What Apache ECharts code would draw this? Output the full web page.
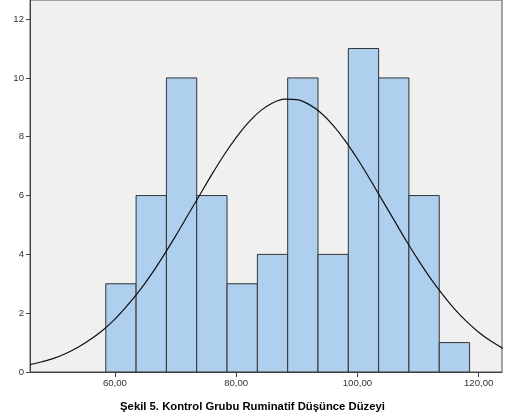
<!DOCTYPE html>
<html>
<head>
<meta charset="utf-8">
<script src="https://cdn.jsdelivr.net/npm/echarts@6/dist/echarts.min.js"></script>
<style>
html,body{margin:0;padding:0;background:#fff;}
#c{width:505px;height:419px;}
</style>
</head>
<body>
<div id="c"></div>
<script>
// Histogram bins (lower edges) and counts
const binStarts = [58.5, 63.5, 68.5, 73.5, 78.5, 83.5, 88.5, 93.5, 98.5, 103.5, 108.5, 113.5];
const binWidth = 5;
const counts = [3, 6, 10, 6, 3, 4, 10, 4, 11, 10, 6, 1];
// Normal curve points
const curveX = [46, 48, 50, 52, 54, 56, 58, 60, 62, 64, 66, 68, 70, 72, 74, 76, 78, 80, 82, 84,
                86, 88, 90, 92, 94, 96, 98, 100, 102, 104, 106, 108, 110, 112, 114, 116, 118, 120, 122, 124];
const curveY = [0.25, 0.35, 0.47, 0.64, 0.85, 1.11, 1.42, 1.80, 2.25, 2.75, 3.32, 3.95, 4.62, 5.32, 6.02, 6.72, 7.38, 7.97, 8.48, 8.88,
                9.15, 9.28, 9.26, 9.10, 8.81, 8.39, 7.86, 7.25, 6.58, 5.88, 5.18, 4.48, 3.82, 3.20, 2.65, 2.15, 1.72, 1.35, 1.05, 0.80];
const xTicks = [60, 80, 100, 120];
const yTicks = [0, 2, 4, 6, 8, 10, 12];
const title = 'Şekil 5. Kontrol Grubu Ruminatif Düşünce Düzeyi';

const chart = echarts.init(document.getElementById('c'), null, {renderer: 'canvas'});
const barData = binStarts.map((s, i) => [s, s + binWidth, counts[i]]);
const curveData = curveX.map((x, i) => [x, curveY[i]]);

chart.setOption({
  animation: false,
  title: {
    text: title,
    left: 'center',
    top: 396,
    textStyle: {fontFamily: 'Liberation Sans', fontWeight: 'bold', fontSize: 11.3, color: '#000'}
  },
  grid: {
    left: 30, right: 3, top: 0, bottom: 47,
    show: true, backgroundColor: '#F0F0F0', borderColor: '#555', borderWidth: 1
  },
  xAxis: {
    type: 'value', min: 46, max: 123.85,
    axisLine: {show: true, lineStyle: {color: '#444', width: 1}},
    axisTick: {show: true, length: 5, lineStyle: {color: '#444'}, customValues: xTicks},
    axisLabel: {
      customValues: xTicks, margin: 6,
      fontFamily: 'Liberation Sans', fontSize: 9.6, color: '#333',
      formatter: v => v.toFixed(2).replace('.', ',')
    },
    splitLine: {show: false}
  },
  yAxis: {
    type: 'value', min: 0, max: 12.65,
    axisLine: {show: true, lineStyle: {color: '#444', width: 1}},
    axisTick: {show: true, length: 4, lineStyle: {color: '#444'}, customValues: yTicks},
    axisLabel: {
      customValues: yTicks, margin: 6,
      fontFamily: 'Liberation Sans', fontSize: 9.6, color: '#333'
    },
    splitLine: {show: false}
  },
  series: [
    {
      type: 'custom',
      data: barData,
      encode: {x: [0, 1], y: 2},
      renderItem: function (params, api) {
        const p0 = api.coord([api.value(0), api.value(2)]);
        const p1 = api.coord([api.value(1), 0]);
        return {
          type: 'rect',
          shape: {x: p0[0], y: p0[1], width: p1[0] - p0[0], height: p1[1] - p0[1]},
          style: {fill: '#AED0EE', stroke: '#333', lineWidth: 1}
        };
      },
      z: 2
    },
    {
      type: 'line',
      data: curveData,
      smooth: 0.3,
      showSymbol: false,
      lineStyle: {color: '#111', width: 1.2},
      z: 3
    }
  ]
});
</script>
</body>
</html>
